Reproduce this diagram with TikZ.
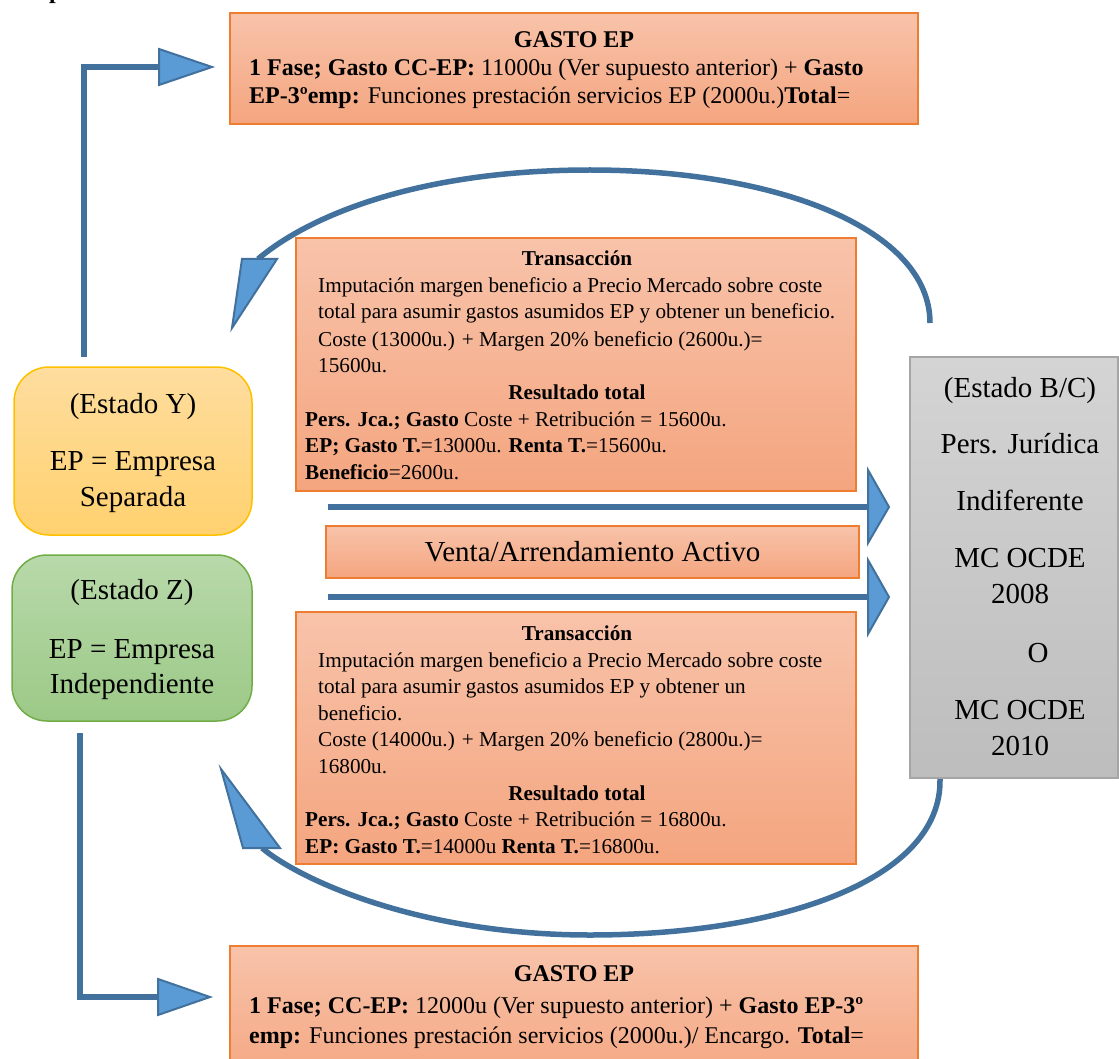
\documentclass[tikz,border=0pt]{standalone}
\usepackage{fontspec}
\setmainfont{Liberation Serif}
\definecolor{obord}{HTML}{ED7D31}
\definecolor{otop}{HTML}{F8C3AA}
\definecolor{obot}{HTML}{F4A57F}
\definecolor{ybord}{HTML}{FFC000}
\definecolor{ytop}{HTML}{FEDD9E}
\definecolor{ybot}{HTML}{FFD16F}
\definecolor{zbord}{HTML}{70AD47}
\definecolor{ztop}{HTML}{B8D9AA}
\definecolor{zbot}{HTML}{9CC987}
\definecolor{gbord}{HTML}{A5A5A5}
\definecolor{gtopc}{HTML}{D4D4D4}
\definecolor{gbotc}{HTML}{BDBDBD}
\definecolor{lineblue}{HTML}{41719C}
\definecolor{headblue}{HTML}{5B9BD5}
\newcommand\fS{\fontsize{21.2pt}{26.5pt}\selectfont}
\newcommand\fM{\fontsize{24pt}{28pt}\selectfont}
\newcommand\fL{\fontsize{29pt}{34pt}\selectfont}
\begin{document}
\begin{tikzpicture}[x=1pt,y=-1pt,
  obox/.style={draw=obord,line width=1.5pt,top color=otop,bottom color=obot,inner sep=0},
  ybox/.style={draw=ybord,line width=1.5pt,top color=ytop,bottom color=ybot,rounded corners=35pt,inner sep=0},
  zbox/.style={draw=zbord,line width=1.5pt,top color=ztop,bottom color=zbot,rounded corners=35pt,inner sep=0},
  gbox/.style={draw=gbord,line width=1.5pt,top color=gtopc,bottom color=gbotc,inner sep=0},
  tl/.style={inner sep=0,anchor=base west,font=\fS},
  tc/.style={inner sep=0,anchor=base,font=\fS\bfseries},
  ml/.style={inner sep=0,anchor=base west,font=\fM},
  mc/.style={inner sep=0,anchor=base,font=\fM\bfseries},
  lc/.style={inner sep=0,anchor=base,font=\fL},
  conn/.style={draw=lineblue,line width=6pt},
  arc/.style={draw=lineblue,line width=5.5pt},
  head/.style={fill=headblue,draw=lineblue,line width=2pt,line join=miter}
]
\clip (0,0) rectangle (1119,1059);
\useasboundingbox (0,0) rectangle (1119,1059);

% partial heading glyph at the top edge
\node[inner sep=0,anchor=base west,font=\fM\bfseries] (hd) at (49,-1) {p};

% boxes
\node[obox,minimum width=688pt,minimum height=111pt] (gtop) at (574,68.5) {};
\node[obox,minimum width=560pt,minimum height=253pt] (tr1) at (576,364.5) {};
\node[obox,minimum width=533pt,minimum height=52pt,font=\fL] (venta) at (592.5,552) {Venta/Arrendamiento Activo};
\node[obox,minimum width=560pt,minimum height=252pt] (tr2) at (576,738) {};
\node[obox,minimum width=688pt,minimum height=144pt] (gbot) at (574,1018) {};
\node[ybox,minimum width=238pt,minimum height=168pt] (ystate) at (133,451) {};
\node[zbox,minimum width=240pt,minimum height=166pt] (zstate) at (132,638) {};
\node[gbox,minimum width=208pt,minimum height=421pt] (bc) at (1014,567.5) {};

% top GASTO EP
\node[mc] (gtopT) at (574,48) {GASTO EP};
\node[ml] (gtopA) at (249,76) {\textbf{1 Fase; Gasto CC-EP:} 11000u (Ver supuesto anterior) + \textbf{Gasto}};
\node[ml] (gtopB) at (249,104) {\textbf{EP-3ºemp:} Funciones prestación servicios EP (2000u.)\textbf{Total}=};

% transaction 1
\node[tc] (t1h) at (577,266) {Transacción};
\node[tl] (t1a) at (318,293) {Imputación margen beneficio a Precio Mercado sobre coste};
\node[tl] (t1b) at (318,319) {total para asumir gastos asumidos EP y obtener un beneficio.};
\node[tl] (t1c) at (318,346) {Coste (13000u.) + Margen 20\% beneficio (2600u.)=};
\node[tl] (t1d) at (318,372) {15600u.};
\node[tc] (t1r) at (577,399) {Resultado total};
\node[tl] (t1e) at (305,426) {\textbf{Pers. Jca.; Gasto} Coste + Retribución = 15600u.};
\node[tl] (t1f) at (305,452) {\textbf{EP; Gasto T.}=13000u. \textbf{Renta T.}=15600u.};
\node[tl] (t1g) at (305,479) {\textbf{Beneficio}=2600u.};

% transaction 2
\node[tc] (t2h) at (577,640) {Transacción};
\node[tl] (t2a) at (318,667) {Imputación margen beneficio a Precio Mercado sobre coste};
\node[tl] (t2b) at (318,693) {total para asumir gastos asumidos EP y obtener un};
\node[tl] (t2c) at (318,720) {beneficio.};
\node[tl] (t2d) at (318,746) {Coste (14000u.) + Margen 20\% beneficio (2800u.)=};
\node[tl] (t2e) at (318,773) {16800u.};
\node[tc] (t2r) at (577,800) {Resultado total};
\node[tl] (t2f) at (305,826) {\textbf{Pers. Jca.; Gasto} Coste + Retribución = 16800u.};
\node[tl] (t2g) at (305,853) {\textbf{EP: Gasto T.}=14000u \textbf{Renta T.}=16800u.};

% bottom GASTO EP
\node[mc] (gbotT) at (574,981) {GASTO EP};
\node[ml] (gbotA) at (249,1013) {\textbf{1 Fase; CC-EP:} 12000u (Ver supuesto anterior) + \textbf{Gasto EP-3º}};
\node[ml] (gbotB) at (249,1043) {\textbf{emp:} Funciones prestación servicios (2000u.)/ Encargo. \textbf{Total}=};
\node[ml] (gbotC) at (249,1076) {14000u.};

% state Y
\node[lc] (y1) at (133,413) {(Estado Y)};
\node[lc] (y2) at (133,470) {EP = Empresa};
\node[lc] (y3) at (133,506) {Separada};
% state Z
\node[lc] (z1) at (132,599) {(Estado Z)};
\node[lc] (z2) at (132,658) {EP = Empresa};
\node[lc] (z3) at (132,693) {Independiente};
% state B/C
\node[lc] (b1) at (1020,397) {(Estado B/C)};
\node[lc] (b2) at (1020,453) {Pers. Jurídica};
\node[lc] (b3) at (1020,510) {Indiferente};
\node[lc] (b4) at (1020,567) {MC OCDE};
\node[lc] (b5) at (1020,603) {2008};
\node[lc] (b6) at (1038,662) {O};
\node[lc] (b7) at (1020,719) {MC OCDE};
\node[lc] (b8) at (1020,755) {2010};

% connectors: Y -> top GASTO EP
\coordinate (yup) at (84,357);
\coordinate (ycorner) at (84,67);
\coordinate (yend) at (160,67);
\draw[conn] (yup) -- (ycorner) -- (yend);
\path[head] (159,49) -- (212,67) -- (159,85) -- cycle;

% connectors: Z -> bottom GASTO EP
\coordinate (zdown) at (80,733);
\coordinate (zcorner) at (80,997);
\coordinate (zend) at (160,997);
\draw[conn] (zdown) -- (zcorner) -- (zend);
\path[head] (158,979) -- (210,997) -- (158,1015) -- cycle;

% horizontal arrows to B/C
\coordinate (h1s) at (328,507);
\coordinate (h1e) at (868,507);
\coordinate (h2s) at (328,597);
\coordinate (h2e) at (868,597);
\draw[conn] (h1s) -- (h1e);
\draw[conn] (h2s) -- (h2e);
\path[head] (868,470) -- (889,507) -- (868,543) -- cycle;
\path[head] (868,560) -- (889,597) -- (868,634) -- cycle;

% top arc
\coordinate (a1s) at (930,323);
\coordinate (a1m) at (590,170);
\coordinate (a1e) at (258,259);
\draw[arc] (a1s) .. controls (930,230) and (780,170) .. (a1m) .. controls (420,170) and (310,215) .. (a1e);
\path[head] (242,259) -- (277,259) -- (232,328) -- cycle;

% bottom arc
\coordinate (a2s) at (940,779);
\coordinate (a2m) at (590,935);
\coordinate (a2e) at (262,848);
\draw[arc] (a2s) .. controls (942,880) and (780,935) .. (a2m) .. controls (420,935) and (300,880) .. (a2e);
\path[head] (221,769) -- (280,848) -- (243,848) -- cycle;
\end{tikzpicture}
\end{document}
